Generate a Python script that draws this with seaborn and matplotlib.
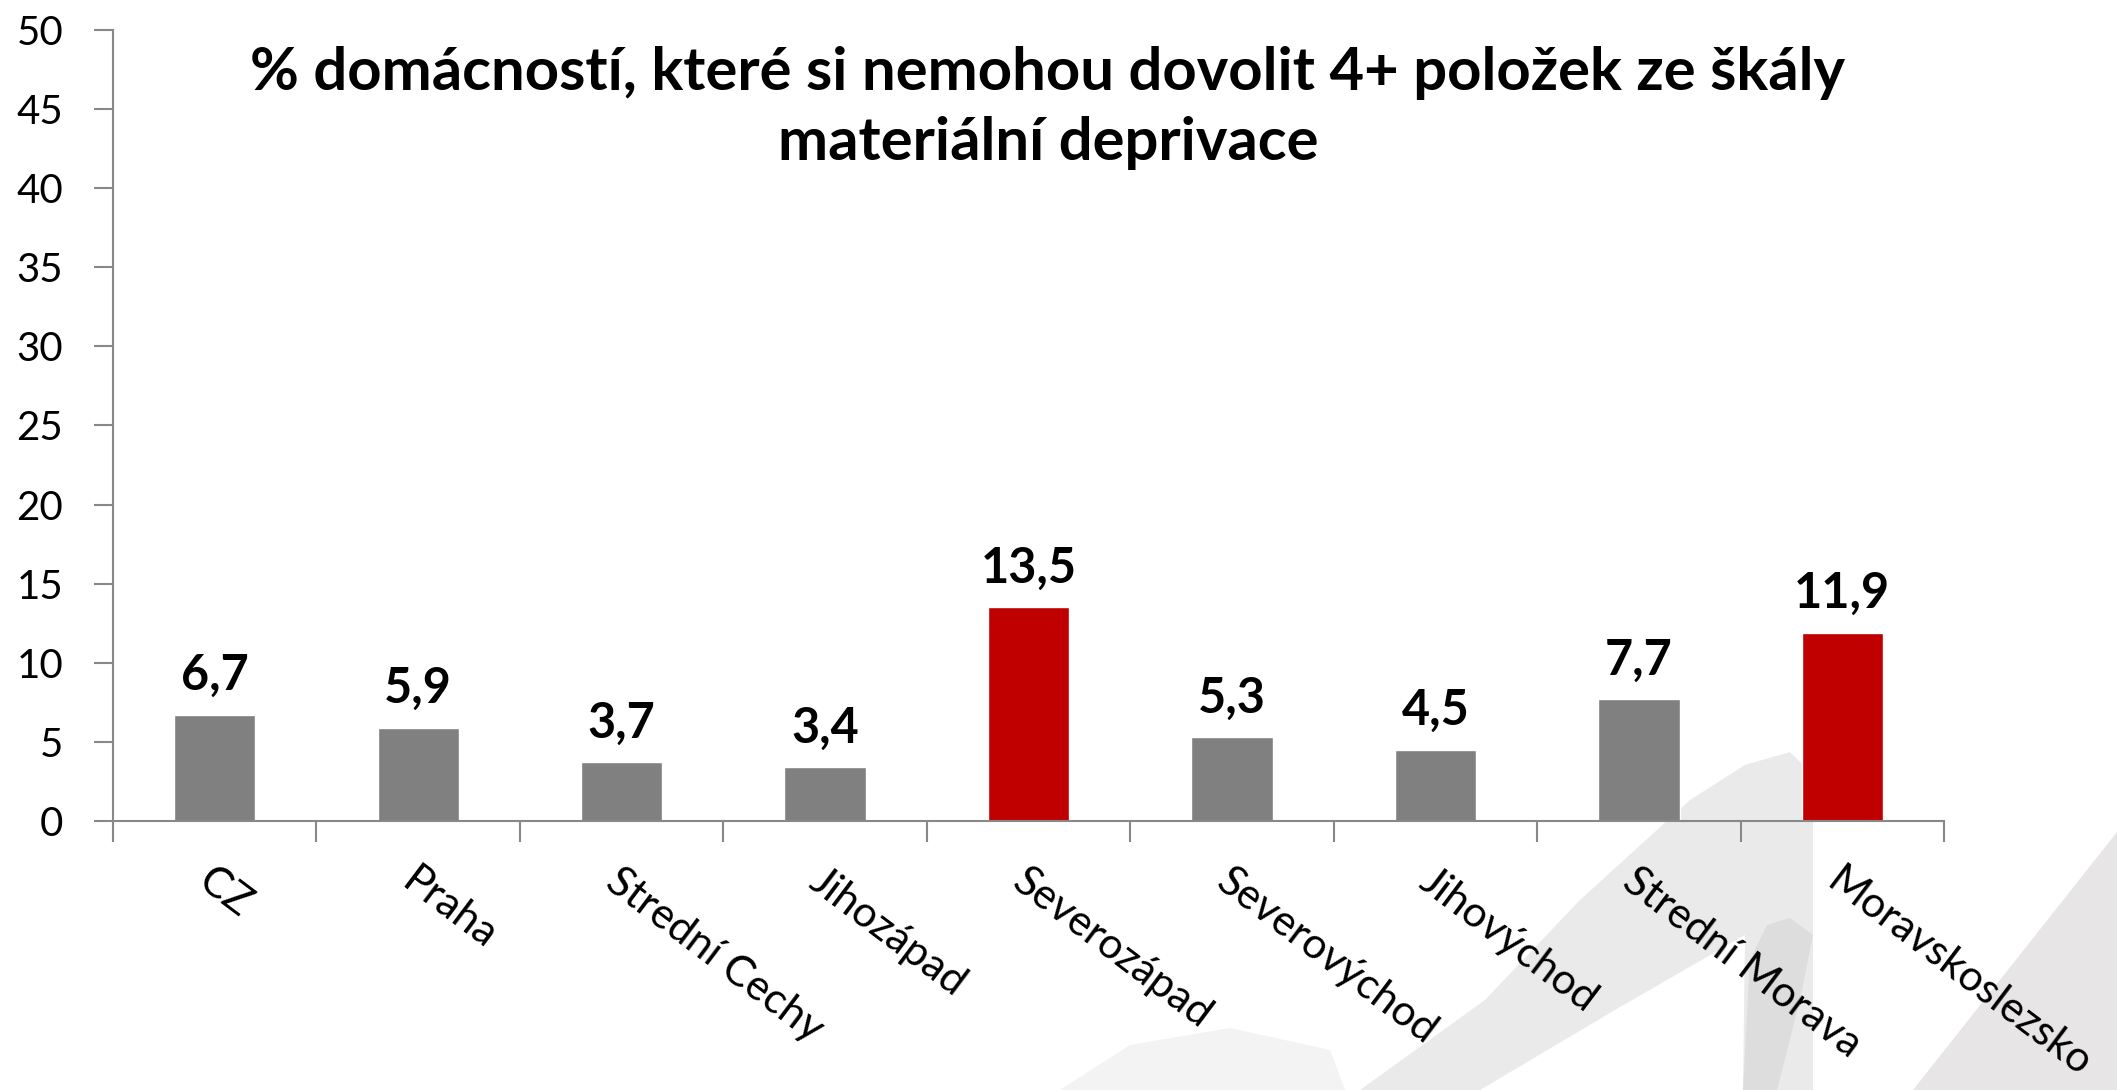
import numpy as np
import matplotlib
matplotlib.use('Agg')
import matplotlib.pyplot as plt
from matplotlib.patches import Polygon
import seaborn as sns

# data
regions = ['CZ', 'Praha', 'Strední Cechy', 'Jihozápad', 'Severozápad',
           'Severovýchod', 'Jihovýchod', 'Strední Morava', 'Moravskoslezsko']
values = [6.7, 5.9, 3.7, 3.4, 13.5, 5.3, 4.5, 7.7, 11.9]
value_labels = ['6,7', '5,9', '3,7', '3,4', '13,5', '5,3', '4,5', '7,7', '11,9']
bar_colors = ['#808080', '#808080', '#808080', '#808080', '#C00000',
              '#808080', '#808080', '#808080', '#C00000']
y_ticks = [0, 5, 10, 15, 20, 25, 30, 35, 40, 45, 50]
title = '% domácností, které si nemohou dovolit 4+ položek ze škály\nmateriální deprivace'

sns.set_style('white')
plt.rcParams['font.family'] = ['Lato', 'DejaVu Sans']
plt.rcParams['text.color'] = 'black'

W, H = 2117, 1090
fig = plt.figure(figsize=(W / 100, H / 100), dpi=100)


def px(points):
    # pixely (odshora) -> souradnice obrazku
    return [(x / W, 1 - y / H) for x, y in points]


# dekorativni sede pozadi vpravo dole
swoosh = [
    ([(1060, 1090), (1130, 1045), (1230, 1028), (1330, 1050), (1345, 1090)], '#f3f3f3'),
    ([(1360, 1090), (1485, 1000), (1580, 900), (1690, 800), (1745, 765),
      (1790, 752), (1813, 775), (1813, 1090), (1743, 1090), (1745, 935),
      (1620, 1007), (1480, 1090)], '#eaeaea'),
    ([(1743, 1090), (1750, 960), (1767, 925), (1790, 918), (1813, 935),
      (1800, 1000), (1777, 1090)], '#dedddd'),
    ([(1913, 1090), (2117, 832), (2117, 1090)], '#e7e5e5'),
]
for pts, col in swoosh:
    fig.add_artist(Polygon(px(pts), closed=True, facecolor=col,
                           edgecolor='none', transform=fig.transFigure,
                           zorder=-1))

ax = fig.add_axes([0.0534, 0.2468, 0.8649, 0.7257])
ax.set_facecolor('none')

sns.barplot(x=regions, y=values, hue=regions, palette=bar_colors,
            legend=False, width=0.4, saturation=1, ax=ax)

for cont, lab in zip(ax.containers, value_labels):
    ax.bar_label(cont, labels=[lab], padding=12, fontsize=35,
                 fontweight='bold', color='black')

ax.set_xlim(-0.5, len(regions) - 0.5)
ax.set_ylim(0, 50)
ax.set_yticks(y_ticks)
ax.set_xlabel('')
ax.set_ylabel('')

# osy
for side in ['top', 'right']:
    ax.spines[side].set_visible(False)
for side in ['left', 'bottom']:
    ax.spines[side].set_color('#888888')
    ax.spines[side].set_linewidth(1.5)

ax.tick_params(axis='y', length=14, width=1.5, color='#888888',
               labelsize=29, pad=22, left=True, labelcolor='black')
ax.tick_params(axis='x', which='major', length=0, labelsize=30.5, pad=29,
               labelcolor='black')
ax.set_xticks(np.arange(-0.5, len(regions)), minor=True)
ax.tick_params(axis='x', which='minor', length=15, width=1.5,
               color='#888888', bottom=True)
plt.setp(ax.get_xticklabels(), rotation=-37, ha='left',
         rotation_mode='anchor')

fig.text(0.495, 0.901, title, ha='center', va='center', fontsize=43,
         fontweight='bold', linespacing=1.35, color='black')

plt.savefig('out.png', dpi=100)
plt.close()
